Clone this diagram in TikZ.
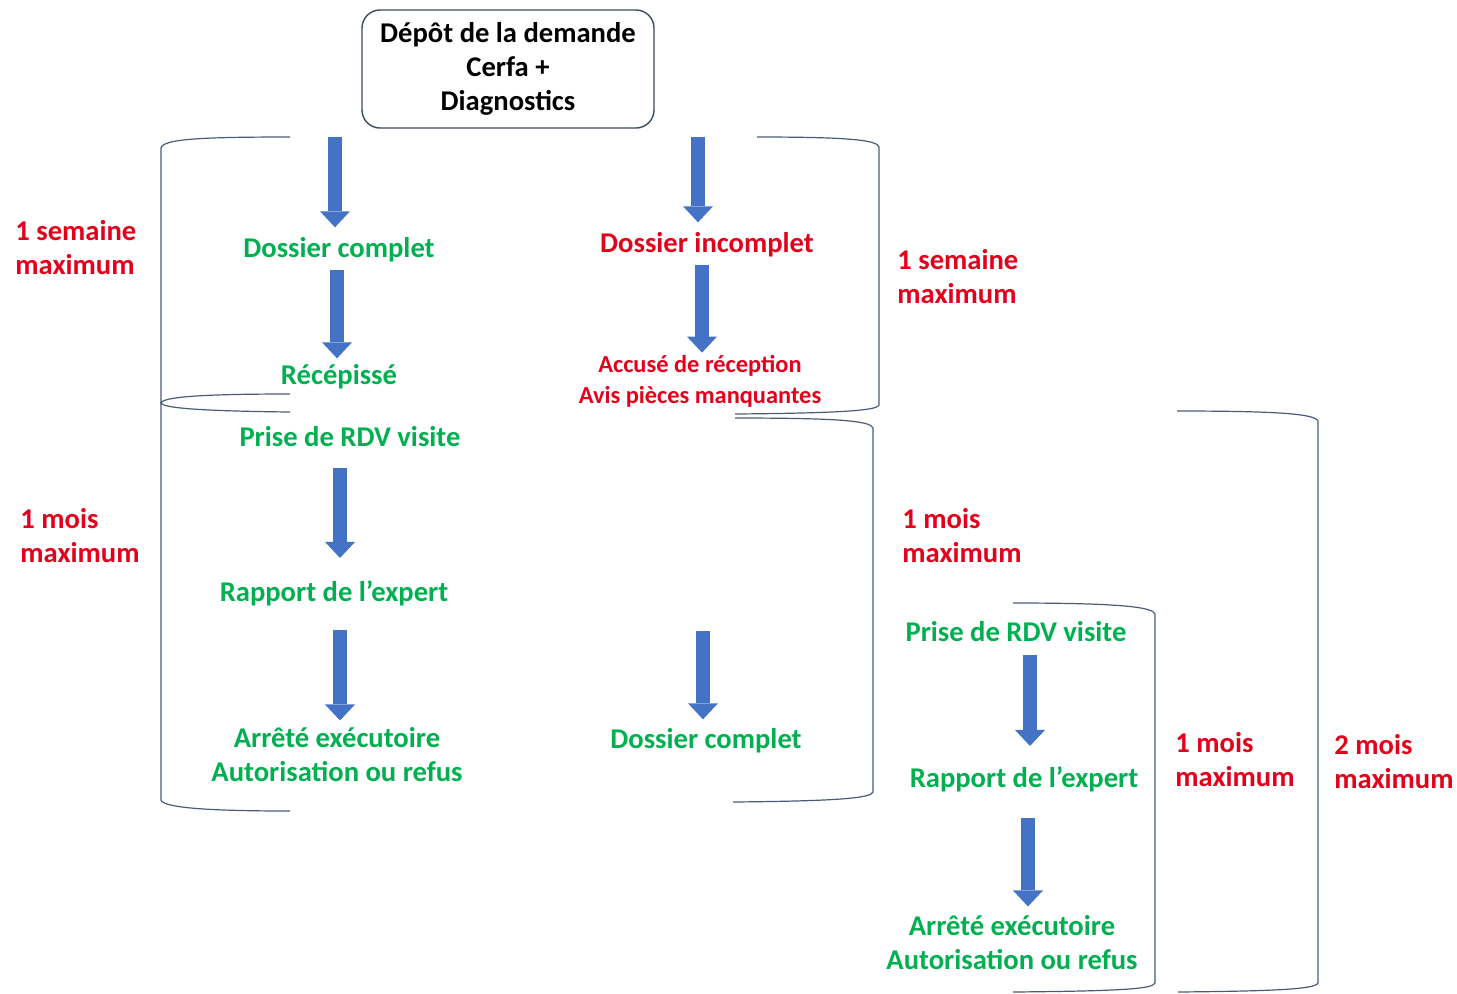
\documentclass[tikz,border=0pt]{standalone}
\usepackage{fontspec}
\setmainfont{Carlito}
\usetikzlibrary{arrows.meta}
\definecolor{vertok}{HTML}{00B050}
\definecolor{rougeko}{HTML}{E3001B}
\definecolor{bleuf}{HTML}{4472C4}
\definecolor{trait}{HTML}{4A5A78}
\definecolor{cadre}{HTML}{3B4A5E}
\begin{document}
\begin{tikzpicture}[x=0.5pt,y=-0.5pt,
  demande/.style={draw=cadre,line width=0.7pt,rounded corners=9pt,minimum width=146pt,minimum height=59pt,align=center,font=\fontsize{14.3}{17}\selectfont\bfseries},
  vert/.style={text=vertok,inner sep=0pt,align=center,font=\fontsize{14.3}{17}\selectfont\bfseries},
  rouge/.style={text=rougeko,inner sep=0pt,align=center,font=\fontsize{14.3}{17}\selectfont\bfseries},
  petit/.style={text=rougeko,inner sep=0pt,align=center,font=\fontsize{12.2}{15.5}\selectfont\bfseries},
  delai/.style={text=rougeko,inner sep=0pt,anchor=west,align=left,font=\fontsize{14.3}{17}\selectfont\bfseries},
  fleche/.style={draw=bleuf,line width=7pt,-{Triangle[width=15pt,length=8pt,line width=0pt]}},
  crochet/.style={draw=trait,line width=0.6pt}]
\useasboundingbox (0,0) rectangle (1457,993);
% boite de depart
\node[demande] (depot) at (508,69) {Dépôt de la demande\\Cerfa +\\Diagnostics};
% colonne gauche
\node[vert] (dc1) at (339,250) {Dossier complet};
\node[vert] (rec) at (339,377) {Récépissé};
\node[vert] (rdv1) at (350,437) {Prise de RDV visite};
\node[vert] (rap1) at (334,593) {Rapport de l’expert};
\node[vert] (arr1) at (337,755) {Arrêté exécutoire\\Autorisation ou refus};
% colonne du milieu
\node[rouge] (di) at (707,245) {Dossier incomplet};
\node[petit] (acc) at (700,381) {Accusé de réception\\Avis pièces manquantes};
\node[vert] (dc2) at (706,741) {Dossier complet};
\coordinate (dc2in) at (703,631);
% colonne droite
\node[vert] (rdv2) at (1016,632) {Prise de RDV visite};
\node[vert] (rap2) at (1024,779) {Rapport de l’expert};
\node[vert] (arr2) at (1012,943) {Arrêté exécutoire\\Autorisation ou refus};
% delais
\node[delai] (l1) at (15,248) {1 semaine\\maximum};
\node[delai] (l2) at (897,277) {1 semaine\\maximum};
\node[delai] (l3) at (20,536) {1 mois\\maximum};
\node[delai] (l4) at (902,536) {1 mois\\maximum};
\node[delai] (l5) at (1175,760) {1 mois\\maximum};
\node[delai] (l6) at (1334,762) {2 mois\\maximum};
% fleches
\draw[fleche] ([xshift=-2pt,yshift=-4pt]depot.south -| dc1.north) -- ([xshift=-2pt,yshift=5pt]dc1.north);
\draw[fleche] ([xshift=-1pt,yshift=-3.5pt]dc1.south) -- ([xshift=-1pt,yshift=3pt]rec.north);
\draw[fleche] ([xshift=3pt,yshift=-10pt]rdv1.south -| rap1.north) -- ([xshift=3pt,yshift=11pt]rap1.north);
\draw[fleche] ([xshift=1.5pt,yshift=-12pt]rap1.south -| arr1.north) -- ([xshift=1.5pt,yshift=3.5pt]arr1.north);
\draw[fleche] ([xshift=-4.5pt,yshift=-4pt]depot.south -| di.north) -- ([xshift=-4.5pt,yshift=5pt]di.north);
\draw[fleche] ([xshift=1pt,yshift=-3.5pt]di.south -| acc.north) -- ([xshift=1pt,yshift=1pt]acc.north);
\draw[fleche] (dc2in) -- ([yshift=4.5pt]dc2in |- dc2.north);
\draw[fleche] ([xshift=3pt,yshift=-6pt]rdv2.south -| rap2.north) -- ([xshift=3pt,yshift=10pt]rap2.north);
\draw[fleche] ([xshift=8pt,yshift=-13pt]rap2.south -| arr2.north) -- ([xshift=8pt,yshift=4.5pt]arr2.north);
% crochets
\draw[crochet] (290,137) .. controls (200,137) and (163,139) .. (161,148) -- (161,403) .. controls (163,397) and (200,394) .. (290,394);
\draw[crochet] (290,412) .. controls (200,411) and (163,408) .. (161,403) -- (161,800) .. controls (163,807) and (200,811) .. (290,811);
\draw[crochet] (757,137) .. controls (850,137) and (877,140) .. (879,147) -- (879,405) .. controls (877,410) and (850,413) .. (735,414);
\draw[crochet] (735,418) .. controls (840,418) and (871,421) .. (873,428) -- (873,792) .. controls (871,798) and (840,801) .. (733,802);
\draw[crochet] (1177,411) .. controls (1280,411) and (1315,414) .. (1318,421) -- (1318,983) .. controls (1315,989) and (1280,991) .. (1178,992);
\draw[crochet] (1013,603) .. controls (1120,603) and (1153,607) .. (1155,614) -- (1155,983) .. controls (1153,989) and (1120,991) .. (1013,992);
\end{tikzpicture}
\end{document}
